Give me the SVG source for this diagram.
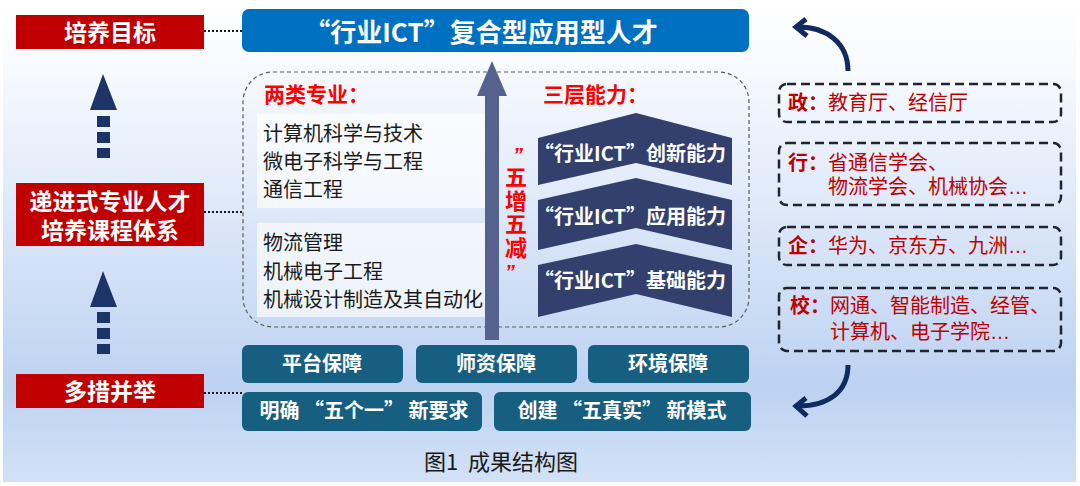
<svg xmlns="http://www.w3.org/2000/svg" width="1080" height="486" viewBox="0 0 1080 486">
<defs>
<linearGradient id="bg" x1="0" y1="0" x2="0" y2="1">
<stop offset="0" stop-color="#ffffff"/>
<stop offset="0.15" stop-color="#f6f9fe"/>
<stop offset="0.8" stop-color="#bdd2f1"/>
<stop offset="1" stop-color="#d2e1f6"/>
</linearGradient>
<style>
text{font-family:"Noto Sans CJK SC","Liberation Sans",sans-serif;}
.wt{fill:#ffffff;font-weight:bold;text-anchor:middle;}
.btn{fill:#175f81;}
.chev{fill:#333f6d;}
.lst{fill:#1a1a1a;font-size:20px;}
.hd{fill:#ff0000;font-size:21px;font-weight:bold;}
.rb{fill:none;stroke:#1f2430;stroke-width:2.5;stroke-dasharray:9 5;}
.rt{fill:#c00000;font-size:20px;}
.el{font-family:"Liberation Sans",sans-serif;}
.dot{stroke:#1a1a1a;stroke-width:2;stroke-dasharray:2 2;fill:none;}
.up{fill:#1c3468;}
.curve{fill:none;stroke:#0f2b60;stroke-width:5;}
.q{font-family:"Liberation Sans",sans-serif;font-size:20px;font-weight:bold;fill:#ff0000;font-style:italic;}
</style>
</defs>
<rect x="0" y="0" width="1080" height="486" fill="#ffffff"/>
<rect x="3" y="3" width="1073" height="479" fill="url(#bg)"/>

<g id="connectors">
<line class="dot" x1="204" y1="31" x2="242" y2="31"/>
<line class="dot" x1="204" y1="212" x2="243" y2="212"/>
<line class="dot" x1="204" y1="393" x2="244" y2="393"/>
<g id="up-arrow-1" class="up">
<polygon points="103,74 117,110 90,110"/>
<rect x="97" y="116" width="13" height="11"/>
<rect x="97" y="132" width="13" height="11"/>
<rect x="97" y="148" width="13" height="10"/>
</g>
<g id="up-arrow-2" class="up">
<polygon points="103,271 117,307 90,307"/>
<rect x="97" y="312" width="13" height="11"/>
<rect x="97" y="328" width="13" height="11"/>
<rect x="97" y="344" width="13" height="10"/>
</g>
<g id="curve-top">
<path class="curve" d="M848,71 C848,44 828,27 798,27"/>
<polyline class="curve" points="806,19 796,27 807,36" stroke-linejoin="miter"/>
</g>
<g id="curve-bottom">
<path class="curve" d="M848,365 C848,392 828,406 798,406"/>
<polyline class="curve" points="806,398 796,406 807,416" stroke-linejoin="miter"/>
</g>
</g>

<g id="goal">
<rect x="16" y="15" width="188" height="34" fill="#c00000"/>
<text class="wt" x="110" y="41" font-size="23">培养目标</text>
</g>
<g id="system">
<rect x="16" y="183" width="188" height="63" fill="#c00000"/>
<text class="wt" font-size="23"><tspan x="110" y="210">递进式专业人才</tspan><tspan x="110" y="239">培养课程体系</tspan></text>
</g>
<g id="measures">
<rect x="16" y="374" width="188" height="34" fill="#c00000"/>
<text class="wt" x="110" y="400" font-size="23">多措并举</text>
</g>

<g id="talent">
<rect x="242" y="9" width="507" height="43" rx="7" fill="#0070c0"/>
<text class="wt" x="481" y="42" font-size="26">“行业ICT”复合型应用型人才</text>
</g>

<g id="panel">
<rect x="243" y="72" width="506" height="255" rx="30" fill="none" stroke="#5a5a5a" stroke-width="1.2" stroke-dasharray="4 3"/>
<rect x="257" y="114" width="233" height="94" fill="#ffffff" opacity="0.65"/>
<rect x="257" y="223" width="233" height="94" fill="#ffffff" opacity="0.65"/>
</g>

<g id="majors">
<text class="hd" x="264" y="102">两类专业：</text>
<text class="lst" x="263" y="141">计算机科学与技术</text>
<text class="lst" x="263" y="169">微电子科学与工程</text>
<text class="lst" x="263" y="197">通信工程</text>
<text class="lst" x="263" y="250">物流管理</text>
<text class="lst" x="263" y="279">机械电子工程</text>
<text class="lst" x="263" y="307">机械设计制造及其自动化</text>
</g>

<g id="main-arrow">
<rect x="485" y="94" width="14" height="246" fill="#56628e"/>
<polygon points="492,61 507,96 477,96" fill="#56628e"/>
</g>

<g id="five">
<text class="q" x="513" y="162">”</text>
<text x="516" y="166" font-size="22" font-weight="bold" fill="#ff0000" writing-mode="vertical-rl" letter-spacing="1.5">五增五减</text>
<text class="q" x="505" y="279">”</text>
</g>

<g id="abilities">
<text class="hd" x="543" y="102">三层能力：</text>
</g>
<g id="innovation">
<polygon class="chev" points="538,138 636,113 732,138 732,185 636,163 538,185"/>
<text class="wt" x="630" y="161" font-size="20">“行业ICT”创新能力</text>
</g>
<g id="application">
<polygon class="chev" points="538,200 636,178 732,200 732,250 636,228 538,250"/>
<text class="wt" x="630" y="224" font-size="20">“行业ICT”应用能力</text>
</g>
<g id="foundation">
<polygon class="chev" points="538,265 636,244 732,265 732,317 636,294 538,317"/>
<text class="wt" x="630" y="288" font-size="20">“行业ICT”基础能力</text>
</g>

<g id="platform">
<rect class="btn" x="242" y="345" width="161" height="38" rx="6"/>
<text class="wt" x="322" y="371" font-size="20">平台保障</text>
</g>
<g id="teachers">
<rect class="btn" x="416" y="345" width="161" height="38" rx="6"/>
<text class="wt" x="496" y="371" font-size="20">师资保障</text>
</g>
<g id="environment">
<rect class="btn" x="588" y="345" width="161" height="38" rx="6"/>
<text class="wt" x="668" y="371" font-size="20">环境保障</text>
</g>
<g id="requirements">
<rect class="btn" x="242" y="392" width="240" height="39" rx="6"/>
<text class="wt" x="364" y="418" font-size="20">明确 “五个一” 新要求</text>
</g>
<g id="mode">
<rect class="btn" x="494" y="392" width="257" height="39" rx="6"/>
<text class="wt" x="622" y="418" font-size="20">创建 “五真实” 新模式</text>
</g>

<g id="gov">
<rect class="rb" x="779" y="84" width="282" height="38" rx="8"/>
<text class="rt" x="788" y="110"><tspan font-weight="bold">政：</tspan>教育厅、经信厅</text>
</g>
<g id="industry">
<rect class="rb" x="779" y="143" width="282" height="62" rx="8"/>
<text class="rt"><tspan x="788" y="170" font-weight="bold">行：</tspan><tspan>省通信学会、</tspan><tspan x="828" y="194">物流学会、机械协会</tspan><tspan class="el">…</tspan></text>
</g>
<g id="enterprise">
<rect class="rb" x="779" y="227" width="282" height="38" rx="8"/>
<text class="rt" x="788" y="253"><tspan font-weight="bold">企：</tspan>华为、京东方、九洲<tspan class="el">…</tspan></text>
</g>
<g id="school">
<rect class="rb" x="779" y="288" width="282" height="63" rx="8"/>
<text class="rt"><tspan x="790" y="313" font-weight="bold">校：</tspan><tspan>网通、智能制造、经管、</tspan><tspan x="830" y="339">计算机、电子学院</tspan><tspan class="el">…</tspan></text>
</g>

<text x="501" y="470" font-size="22" fill="#1a1a1a" text-anchor="middle">图1<tspan dx="10">成果结构图</tspan></text>
</svg>
